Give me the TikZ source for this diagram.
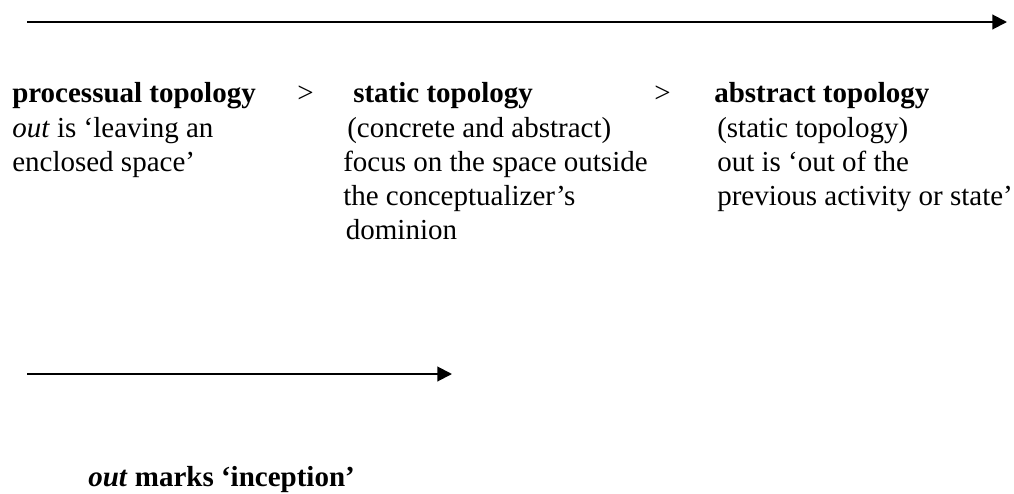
\documentclass[tikz,border=0pt]{standalone}
\usepackage{fontspec}
\setmainfont{Liberation Serif}
\usetikzlibrary{arrows.meta}
\tikzset{
  >={Triangle[length=11pt,width=11pt]},
  headtext/.style={
    font=\fontsize{21.75}{25.5}\selectfont\bfseries,
    anchor=base west, inner sep=0pt
  },
  plaintext/.style={
    font=\fontsize{21.75}{25.5}\selectfont,
    anchor=base west, inner sep=0pt, align=left
  },
  notetext/.style={plaintext, anchor=north west},
  timeline/.style={->, line width=1.5pt},
}

\begin{document}
\begin{tikzpicture}[x=0.75pt, y=-0.75pt]
\useasboundingbox (0,0) rectangle (1014,493);
% --- Nodes ---
\node[headtext] (proc) at (12,102) {processual topology};
\node[plaintext] (gtone) at (297,102) {>};
\node[headtext] (stat) at (353,102) {static topology};
\node[plaintext] (gttwo) at (654,102) {>};
\node[headtext] (abst) at (714,102) {abstract topology};
% notes: top = first baseline (137) minus strut height
\node[notetext] (procnote) at (12,113.2) {\strut\textit{out} is ‘leaving an\\enclosed space’};
\node[notetext] (statnote) at (343,113.2) {\strut\hspace{3pt}(concrete and abstract)\\focus on the space outside\\the conceptualizer’s\\\hspace{2pt}dominion};
\node[notetext] (abstnote) at (717,113.2) {\strut(static topology)\\out is ‘out of the\\previous activity or state’};
\node[headtext] (incep) at (88,486) {\textit{out} marks ‘inception’};
% --- Arrows ---
\coordinate (toptail) at (27,22);
\coordinate (tophead) at (1007,22);
\coordinate (lowtail) at (27,374);
\coordinate (lowhead) at (452,374);
\draw[timeline] (toptail) -- (tophead);   % upper scale
\draw[timeline] (lowtail) -- (lowhead);   % lower scale
\end{tikzpicture}
\end{document}
